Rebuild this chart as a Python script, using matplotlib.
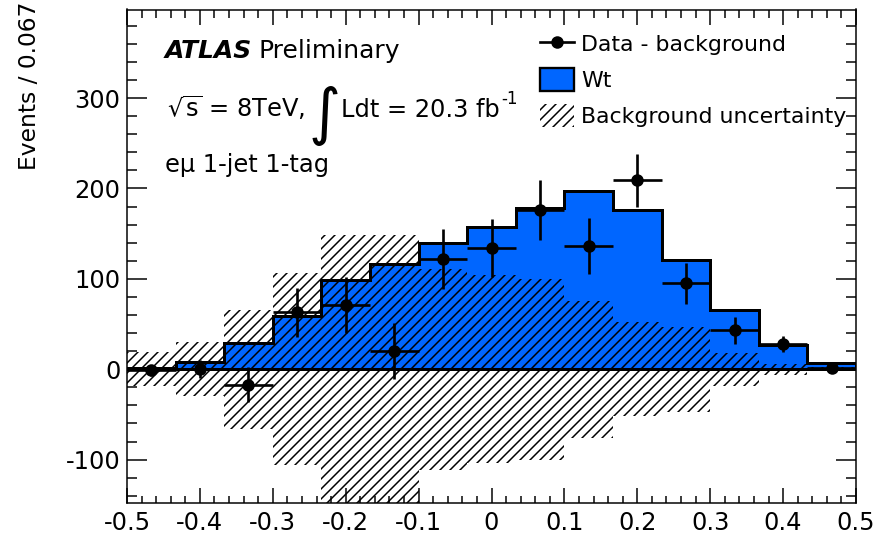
import matplotlib
matplotlib.use("Agg")
import matplotlib.pyplot as plt
from matplotlib.patches import Patch
from matplotlib.lines import Line2D
from matplotlib.ticker import MultipleLocator
import numpy as np

# 15 bins between -0.5 and 0.5 (width 0.067)
x_lo, x_hi, n_bins = -0.5, 0.5, 15

# Wt prediction per bin
wt = [1, 8, 29, 59, 99, 116, 140, 157, 178, 197, 176, 121, 66, 27, 7]

# data minus background, with stat. errors
data_sub = [-1, 0, -17, 63, 71, 20, 122, 134, 176, 136, 209, 95, 43, 28, 1]
data_err = [6, 10, 19, 27, 31, 31, 33, 32, 33, 31, 29, 23, 15, 9, 3]

# background uncertainty (symmetric around zero)
bkg_unc = [19, 30, 66, 106, 149, 149, 111, 104, 100, 76, 52, 47, 18, 6, 2]

x_ticks = [-0.5, -0.4, -0.3, -0.2, -0.1, 0, 0.1, 0.2, 0.3, 0.4, 0.5]
x_ticklabels = ['-0.5', '-0.4', '-0.3', '-0.2', '-0.1', '0',
                '0.1', '0.2', '0.3', '0.4', '0.5']
y_ticks = [-100, 0, 100, 200, 300]
y_ticklabels = ['-100', '0', '100', '200', '300']

wt_blue = "#0066ff"

plt.rcParams['axes.unicode_minus'] = False
plt.rcParams['mathtext.fontset'] = 'dejavusans'
plt.rcParams['mathtext.default'] = 'regular'
plt.rcParams['hatch.linewidth'] = 0.9

edges = np.linspace(x_lo, x_hi, n_bins + 1)
centers = 0.5 * (edges[:-1] + edges[1:])
width = edges[1] - edges[0]
unc = np.array(bkg_unc)

fig = plt.figure(figsize=(7.3, 535 / 120), dpi=120)
ax = fig.add_axes([127 / 876, 1 - 503 / 535, 729 / 876, 493.5 / 535])

ax.stairs(wt, edges, fill=True, color=wt_blue, zorder=1)
ax.bar(centers, 2 * unc, bottom=-unc, width=width, facecolor='none',
       edgecolor='black', linewidth=0, hatch='////', zorder=2)
ax.stairs(wt, edges, color='black', linewidth=1.8, zorder=3)
ax.axhline(0, color='black', linewidth=1.8, zorder=3)
ax.errorbar(centers, data_sub, yerr=data_err, xerr=width / 2, fmt='o',
            color='black', ms=6.5, elinewidth=1.6, capsize=0, zorder=4)

ax.set_xlim(x_lo, x_hi)
ax.set_ylim(-148, 398)

ax.set_xticks(x_ticks, x_ticklabels)
ax.set_yticks(y_ticks, y_ticklabels)
ax.xaxis.set_minor_locator(MultipleLocator(0.02))
ax.yaxis.set_minor_locator(MultipleLocator(20))

ax.tick_params(which='both', direction='in', top=True, right=True,
               labelsize=14.5, width=0.9)
ax.tick_params(axis='x', which='major', length=9, pad=5)
ax.tick_params(axis='x', which='minor', length=4.5)
ax.tick_params(axis='y', which='major', length=12, pad=4)
ax.tick_params(axis='y', which='minor', length=6)
for sp in ax.spines.values():
    sp.set_linewidth(0.9)

ax.set_ylabel('Events / 0.067', loc='top', fontsize=14)
ax.yaxis.set_label_coords(-0.118, 1.017)

# labels
atlas = ax.text(0.052, 0.902, 'ATLAS', fontsize=15, fontweight='bold',
                fontstyle='italic', va='baseline', transform=ax.transAxes)
ax.annotate('Preliminary', xy=(1, 0.902), xycoords=(atlas, 'axes fraction'),
            xytext=(4, 0), textcoords='offset points', fontsize=15,
            va='baseline')

t1 = ax.text(0.055, 0.783, r'$\sqrt{s}$ = 8TeV,', fontsize=14.5,
             va='baseline', transform=ax.transAxes)
t2 = ax.annotate('\u222b', xy=(1, 0.783), xycoords=(t1, 'axes fraction'),
                 xytext=(2, -10), textcoords='offset points', fontsize=37,
                 va='baseline')
t3 = ax.annotate('Ldt = 20.3 fb', xy=(1, 0.783), xycoords=(t2, 'axes fraction'),
                 xytext=(0, 0), textcoords='offset points', fontsize=14.5,
                 va='baseline')
ax.annotate('-1', xy=(1, 0.80), xycoords=(t3, 'axes fraction'),
            xytext=(1, 0), textcoords='offset points', fontsize=10,
            va='bottom')

ax.text(0.052, 0.671, 'e\u03bc 1-jet 1-tag', fontsize=14.5, va='baseline',
        transform=ax.transAxes)

handles = [
    Line2D([], [], color='black', marker='o', ms=6.5, linewidth=1.6),
    Patch(facecolor=wt_blue, edgecolor='black', linewidth=1.4),
    Patch(facecolor='none', edgecolor='black', linewidth=0, hatch='////'),
]
labels = ['Data - background', 'Wt', 'Background uncertainty']
ax.legend(handles, labels, loc='upper left', bbox_to_anchor=(0.56, 0.963),
          frameon=False, fontsize=13.2, handlelength=1.55, handleheight=1.2,
          handletextpad=0.35, labelspacing=0.6, borderaxespad=0,
          borderpad=0.2)

fig.savefig('out.png', dpi=120)
